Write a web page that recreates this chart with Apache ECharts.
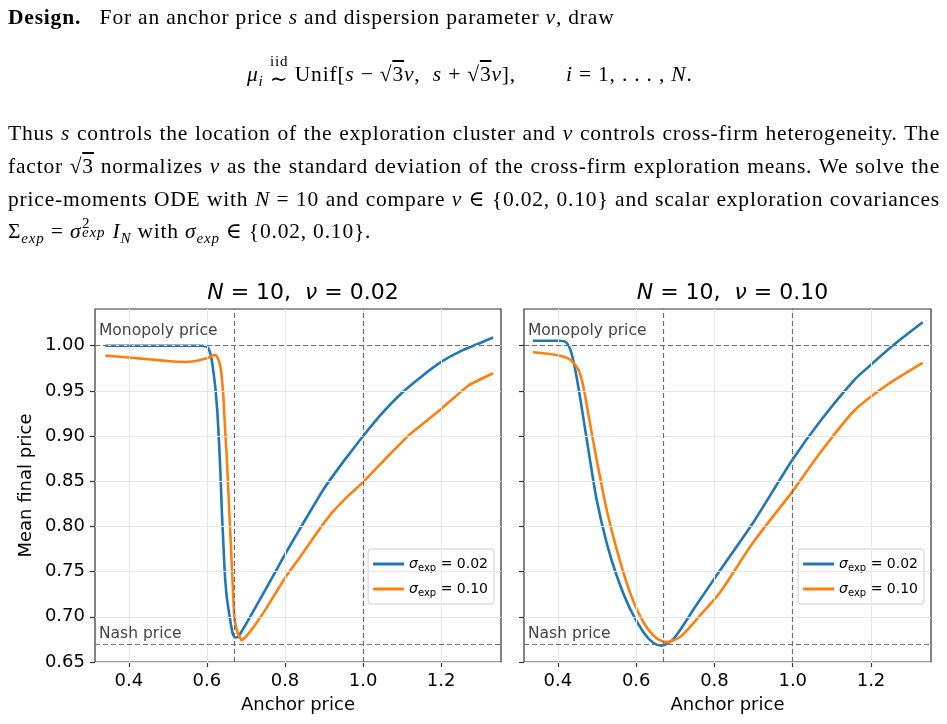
<!DOCTYPE html>
<html>
<head>
<meta charset="utf-8">
<script src="https://cdn.jsdelivr.net/npm/echarts@6/dist/echarts.min.js"></script>
<style>
  html, body { margin: 0; padding: 0; background: #fff; }
  #page { position: relative; width: 947px; height: 724px; overflow: hidden; }
  #chart { position: absolute; left: 0; top: 0; width: 947px; height: 724px; }
  .txt { position: absolute; font-family: "Liberation Serif", "DejaVu Serif", serif; font-size: 21.5px; color: #000; z-index: 2; letter-spacing: 0.8px; }
  .line { position: absolute; left: 8px; width: 932px; height: 33px; line-height: 33px; white-space: nowrap; }
  .just { text-align: justify; text-align-last: justify; }
  sub, sup { font-size: 0.7em; line-height: 0; }
  .stack { display: inline-block; vertical-align: middle; text-align: center; line-height: 1; position: relative; top: -4px; }
  .stack .top { display: block; font-size: 0.7em; }
  .over { text-decoration: overline; }
  .ss { display: inline-block; position: relative; width: 1.45em; height: 1em; vertical-align: baseline; }
  .ss .sp { position: absolute; left: 0.05em; top: -0.02em; font-size: 0.7em; line-height: 1; }
  .ss .sb { position: absolute; left: 0.05em; top: 0.58em; font-size: 0.7em; line-height: 1; font-style: italic; }
</style>
</head>
<body>
<div id="page">
  <div id="chart"></div>
  <div class="txt">
    <div class="line" style="top:1px"><b>Design.</b>&nbsp;&nbsp; For an anchor price <i>s</i> and dispersion parameter <i>ν</i>, draw</div>
    <div class="line" style="top:58px; left:247px; width:470px">
      <i>μ<sub>i</sub></i> <span class="stack"><span class="top">iid</span>∼</span> Unif[<i>s</i> − √<span class="over">3</span><i>ν</i>,&nbsp; <i>s</i> + √<span class="over">3</span><i>ν</i>],<span style="display:inline-block; width:50px"></span><i>i</i> = 1, . . . , <i>N</i>.
    </div>
    <div class="line just" style="top:117px">Thus <i>s</i> controls the location of the exploration cluster and <i>ν</i> controls cross-firm heterogeneity. The</div>
    <div class="line just" style="top:150px">factor √<span class="over">3</span> normalizes <i>ν</i> as the standard deviation of the cross-firm exploration means. We solve the</div>
    <div class="line just" style="top:183px">price-moments ODE with <i>N</i> = 10 and compare <i>ν</i> ∈ {0.02, 0.10} and scalar exploration covariances</div>
    <div class="line" style="top:215px">Σ<sub><i>exp</i></sub> = <i>σ</i><span class="ss"><span class="sp">2</span><span class="sb">exp</span></span><i>I<sub>N</sub></i> with <i>σ<sub>exp</sub></i> ∈ {0.02, 0.10}.</div>
  </div>
</div>
<script>
// axis ticks
const xTicks = [0.4, 0.6, 0.8, 1.0, 1.2];
const yTicks = [0.65, 0.70, 0.75, 0.80, 0.85, 0.90, 0.95, 1.00];
const monopolyPrice = 1.0;
const nashPrice = 2 / 3;
const panelTitles = ['0.02', '0.10'];
const seriesNames = ['σexp = 0.02', 'σexp = 0.10'];

// N = 10, nu = 0.02
const nu02Sig02X = [0.34, 0.40, 0.50, 0.58, 0.60, 0.606, 0.612, 0.617, 0.622, 0.627, 0.631, 0.635, 0.638, 0.642, 0.646, 0.650, 0.655, 0.662, 0.667, 0.672, 0.680, 0.70, 0.75, 0.80, 0.85, 0.90, 0.95, 1.00, 1.05, 1.10, 1.15, 1.20, 1.25, 1.30, 1.333];
const nu02Sig02Y = [1.000, 1.000, 1.000, 1.000, 0.999, 0.995, 0.985, 0.970, 0.952, 0.925, 0.893, 0.855, 0.819, 0.782, 0.746, 0.725, 0.709, 0.690, 0.680, 0.677, 0.678, 0.692, 0.730, 0.769, 0.806, 0.842, 0.872, 0.900, 0.926, 0.948, 0.966, 0.982, 0.994, 1.003, 1.009];
const nu02Sig10X = [0.34, 0.40, 0.45, 0.50, 0.545, 0.57, 0.59, 0.605, 0.615, 0.621, 0.628, 0.634, 0.638, 0.642, 0.646, 0.651, 0.655, 0.659, 0.665, 0.670, 0.675, 0.680, 0.689, 0.70, 0.72, 0.75, 0.80, 0.84, 0.88, 0.92, 0.96, 1.00, 1.06, 1.12, 1.20, 1.27, 1.333];
const nu02Sig10Y = [0.989, 0.987, 0.985, 0.983, 0.982, 0.983, 0.985, 0.987, 0.989, 0.990, 0.986, 0.978, 0.965, 0.945, 0.912, 0.875, 0.838, 0.801, 0.746, 0.701, 0.688, 0.681, 0.674, 0.678, 0.689, 0.708, 0.743, 0.767, 0.792, 0.815, 0.833, 0.849, 0.876, 0.902, 0.930, 0.956, 0.9695];

// N = 10, nu = 0.10
const nu10Sig02X = [0.336, 0.38, 0.404, 0.421, 0.434, 0.447, 0.464, 0.4815, 0.4985, 0.524, 0.55, 0.584, 0.6185, 0.644, 0.665, 0.6956, 0.75, 0.814, 0.8995, 0.998, 1.071, 1.157, 1.20, 1.255, 1.332];
const nu10Sig02Y = [1.0055, 1.0055, 1.0055, 1.0037, 0.9927, 0.967, 0.9226, 0.8748, 0.8305, 0.7827, 0.7457, 0.709, 0.683, 0.671, 0.668, 0.6757, 0.7105, 0.7513, 0.8047, 0.873, 0.917, 0.962, 0.979, 1.000, 1.026];
const nu10Sig10X = [0.336, 0.3956, 0.43, 0.4514, 0.4643, 0.4815, 0.4985, 0.524, 0.55, 0.584, 0.6185, 0.6527, 0.678, 0.713, 0.76, 0.814, 0.8995, 0.998, 1.071, 1.157, 1.2425, 1.332];
const nu10Sig10Y = [0.9927, 0.9897, 0.985, 0.974, 0.956, 0.915, 0.875, 0.8195, 0.775, 0.727, 0.694, 0.676, 0.672, 0.678, 0.700, 0.727, 0.7827, 0.838, 0.882, 0.928, 0.957, 0.981];

const FONT = 'DejaVu Sans';
const BLUE = '#1f77b4', ORANGE = '#ff7f0e';

function pairs(xs, ys) { return xs.map((x, i) => [x, ys[i]]) }

const myChart = echarts.init(document.getElementById('chart'));

const grids = [
  { left: 95, top: 309, width: 406, height: 353 },
  { left: 524, top: 309, width: 407, height: 353 }
].map(g => Object.assign(g, { show: true, borderColor: '#333', borderWidth: 1.2, containLabel: false }));

function xAxisFor(i) {
  return {
    type: 'value', gridIndex: i, min: 0.3133, max: 1.3533,
    name: 'Anchor price', nameLocation: 'middle', nameGap: 34,
    nameTextStyle: { fontFamily: FONT, fontSize: 18, color: '#000' },
    axisLine: { show: false },
    axisTick: { show: true, customValues: xTicks, length: 5, lineStyle: { color: '#333', width: 1.2 } },
    axisLabel: { customValues: xTicks, margin: 10, fontFamily: FONT, fontSize: 18, color: '#000', formatter: v => v.toFixed(1) },
    splitLine: { show: false }
  }
}
function yAxisFor(i) {
  return {
    type: 'value', gridIndex: i, min: 0.65, max: 1.0406,
    name: i === 0 ? 'Mean final price' : '', nameLocation: 'middle', nameGap: 60,
    nameTextStyle: { fontFamily: FONT, fontSize: 18, color: '#000' },
    axisLine: { show: false },
    axisTick: { show: true, customValues: yTicks, length: 5, lineStyle: { color: '#333', width: 1.2 } },
    axisLabel: { show: i === 0, customValues: yTicks, margin: 10, fontFamily: FONT, fontSize: 18, color: '#000', formatter: v => v.toFixed(2) },
    splitLine: { show: false }
  }
}

function refSeries(i) {
  const grid = xTicks.map(v => ({ xAxis: v })).concat(yTicks.map(v => ({ yAxis: v })));
  const refLabel = { fontFamily: FONT, fontSize: 15.5, color: '#444', position: 'insideStartTop' };
  return [
    {
      type: 'line', xAxisIndex: i, yAxisIndex: i, data: [], z: 1, silent: true,
      markLine: {
        silent: true, symbol: ['none', 'none'], animation: false,
        label: { show: false },
        lineStyle: { type: 'solid', color: '#e6e6e6', width: 1 },
        data: grid
      }
    },
    {
      type: 'line', xAxisIndex: i, yAxisIndex: i, data: [], z: 2, silent: true,
      markLine: {
        silent: true, symbol: ['none', 'none'], animation: false,
        lineStyle: { type: [5, 3], color: '#6e6e6e', width: 1.2 },
        label: { show: false },
        data: [
          { yAxis: monopolyPrice, label: Object.assign({ show: true, formatter: 'Monopoly price', distance: [4, 7] }, refLabel) },
          { yAxis: nashPrice, label: Object.assign({ show: true, formatter: 'Nash price', distance: [4, 2] }, refLabel) },
          { xAxis: nashPrice },
          { xAxis: monopolyPrice }
        ]
      }
    }
  ]
}

function curve(name, color, i, xs, ys, smooth) {
  return {
    name: name, type: 'line', xAxisIndex: i, yAxisIndex: i, z: 3,
    data: pairs(xs, ys), showSymbol: false, symbol: 'none', smooth: smooth,
    lineStyle: { color: color, width: 2.6 }, itemStyle: { color: color }
  }
}

function legendFor(right) {
  return {
    orient: 'vertical', right: right, top: 549, data: seriesNames,
    backgroundColor: 'rgba(255,255,255,0.85)', borderColor: '#cccccc', borderWidth: 1, borderRadius: 3,
    padding: [6, 6, 6, 5], itemGap: 7, itemWidth: 31, itemHeight: 14,
    icon: 'path://M0,0 L31,0 L31,3 L0,3 Z',
    textStyle: {
      fontFamily: FONT, fontSize: 14, color: '#000', lineHeight: 18,
      rich: {
        s: { fontFamily: FONT, fontSize: 14, fontStyle: 'italic', lineHeight: 18 },
        sub: { fontFamily: FONT, fontSize: 10, verticalAlign: 'bottom', lineHeight: 18 },
        t: { fontFamily: FONT, fontSize: 14, lineHeight: 18 }
      }
    },
    formatter: n => '{s|σ}{sub|exp}{t| ' + n.slice(5) + '}'
  }
}

const option = {
  animation: false,
  title: panelTitles.map((v, i) => ({
    text: '{i|N} = 10,  {i|ν} = ' + v,
    left: i === 0 ? 298 : 727.5, top: 277, textAlign: 'center',
    textStyle: {
      fontFamily: FONT, fontSize: 22, fontWeight: 'normal', color: '#000',
      rich: { i: { fontFamily: FONT, fontSize: 22, fontStyle: 'italic' } }
    }
  })),
  legend: [legendFor(453), legendFor(23)],
  grid: grids,
  xAxis: [xAxisFor(0), xAxisFor(1)],
  yAxis: [yAxisFor(0), yAxisFor(1)],
  series: [
    ...refSeries(0), ...refSeries(1),
    curve(seriesNames[0], BLUE, 0, nu02Sig02X, nu02Sig02Y, 0.12),
    curve(seriesNames[1], ORANGE, 0, nu02Sig10X, nu02Sig10Y, 0.12),
    curve(seriesNames[0], BLUE, 1, nu10Sig02X, nu10Sig02Y, 0.25),
    curve(seriesNames[1], ORANGE, 1, nu10Sig10X, nu10Sig10Y, 0.25)
  ]
};
myChart.setOption(option);
</script>
</body>
</html>
